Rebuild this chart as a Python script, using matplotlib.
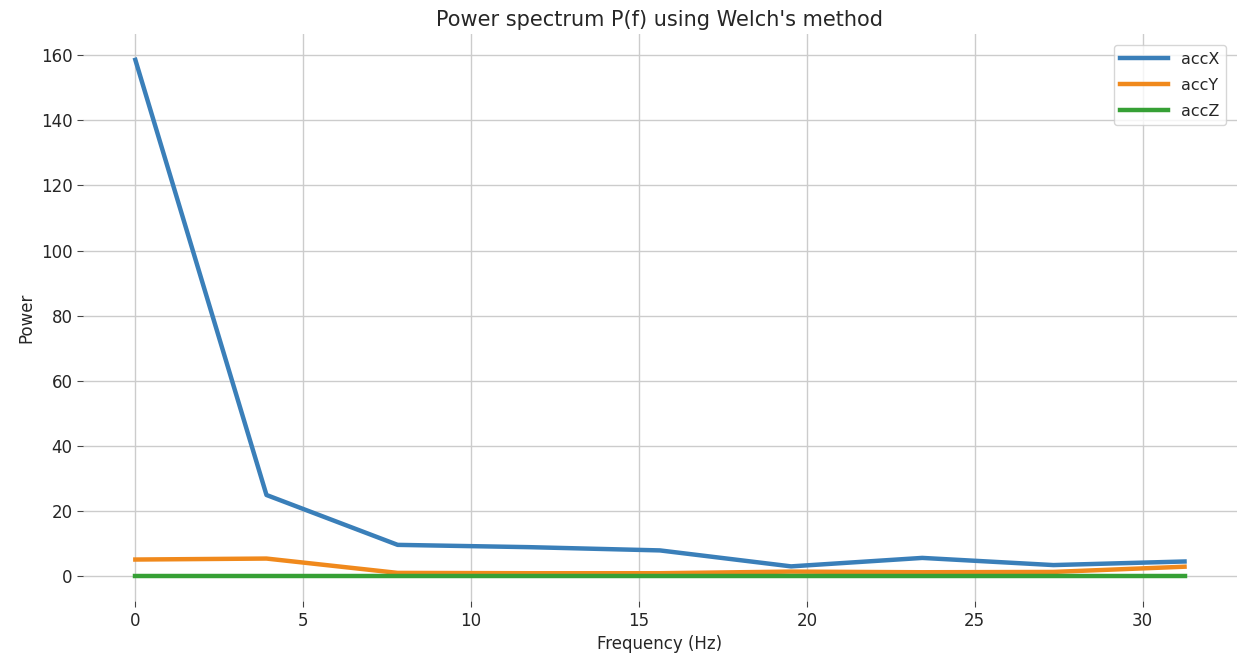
import numpy as np
import matplotlib
matplotlib.use('Agg')
import matplotlib.pyplot as plt

# Welch frequency bins (Hz)
freqs = [0.0, 3.906, 7.8125, 11.719, 15.625, 19.531, 23.438, 27.344, 31.25]

# power per axis
acc_x = [158.5, 25.0, 9.7, 9.0, 8.0, 3.1, 5.7, 3.5, 4.6]
acc_y = [5.2, 5.5, 1.1, 1.0, 1.0, 1.5, 1.3, 1.4, 3.0]
acc_z = [0.3, 0.3, 0.3, 0.3, 0.3, 0.3, 0.3, 0.3, 0.3]

labels = ['accX', 'accY', 'accZ']
colors = ['#3a7fb9', '#f0891c', '#36a035']

plt.rcParams['text.color'] = '#262626'
plt.rcParams['axes.labelcolor'] = '#262626'
plt.rcParams['xtick.color'] = '#262626'
plt.rcParams['ytick.color'] = '#262626'

fig = plt.figure(figsize=(12.37, 6.55), dpi=100)
ax = fig.add_axes([0.067, 0.082, 0.933, 0.866])

for series, label, c in zip([acc_x, acc_y, acc_z], labels, colors):
    ax.plot(freqs, series, color=c, linewidth=3.2, label=label)

ax.grid(True, color='#cccccc', linewidth=1.0)
for side in ['top', 'right', 'left', 'bottom']:
    ax.spines[side].set_visible(False)
ax.tick_params(labelsize=12, length=4, color='#444444')

ax.set_title("Power spectrum P(f) using Welch's method", fontsize=15)
ax.set_xlabel('Frequency (Hz)', fontsize=12)
ax.set_ylabel('Power', fontsize=12)
ax.legend(loc='upper right', fontsize=11.5, labelspacing=0.7,
          handlelength=3.0, borderaxespad=0.7)

fig.savefig('out.png')
